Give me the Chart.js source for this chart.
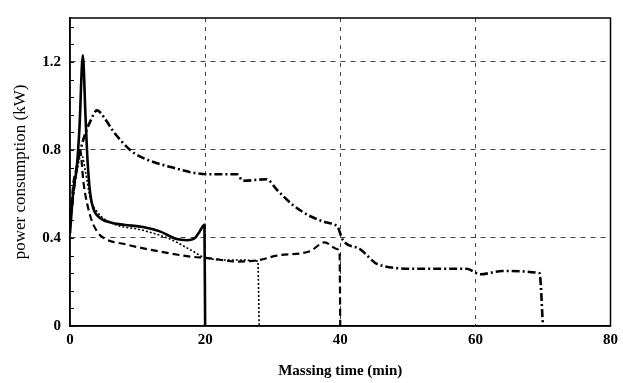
<!DOCTYPE html>
<html>
<head>
<meta charset="utf-8">
<script src="https://cdn.jsdelivr.net/npm/chart.js@4.4.1/dist/chart.umd.min.js"></script>
<style>
  html, body { margin: 0; padding: 0; background: #fff; }
  #wrap { width: 623px; height: 383px; }
</style>
</head>
<body>
<div id="wrap"><canvas id="power"></canvas></div>
<script>
// 20 min massing (solid)
const t20 = [0, 0.5, 1.0, 1.4, 1.9, 2.3, 2.6, 3.0, 3.5, 4.5, 6, 8, 10.8, 13.3, 15.8, 17.3, 18.5, 19.2, 19.9, 20];
const p20 = [0.42, 0.62, 0.72, 0.9, 1.23, 0.95, 0.75, 0.6, 0.53, 0.49, 0.47, 0.46, 0.45, 0.43, 0.395, 0.39, 0.40, 0.43, 0.46, 0];
// 28 min massing (dotted)
const t28 = [0, 0.5, 1.0, 1.7, 2.3, 3.0, 4.0, 6.0, 10.8, 14.8, 18.2, 20, 24, 27.8, 28];
const p28 = [0.45, 0.6, 0.7, 0.78, 0.7, 0.58, 0.52, 0.47, 0.435, 0.395, 0.34, 0.31, 0.30, 0.295, 0];
// 40 min massing (dashed)
const t40 = [0, 0.5, 1.0, 1.5, 2.0, 3.0, 4.0, 5.0, 8.4, 13, 18, 20, 25, 28, 30.6, 35.5, 37.7, 39.5, 39.9, 40];
const p40 = [0.45, 0.65, 0.72, 0.8, 0.65, 0.5, 0.43, 0.40, 0.37, 0.34, 0.315, 0.31, 0.293, 0.30, 0.32, 0.34, 0.38, 0.35, 0.33, 0];
// 70 min massing (dash-dot)
const t70 = [0.3, 1.0, 2.0, 3.0, 4.0, 5.0, 6.4, 8.9, 10.4, 15.2, 20.3, 24.7, 25.6, 29.1, 30.6, 33, 35.5, 38, 39.6, 40.4, 42.9, 45.6, 51.3, 58.7, 60.7, 64, 69.5, 70];
const p70 = [0.55, 0.72, 0.85, 0.93, 0.98, 0.95, 0.885, 0.80, 0.77, 0.72, 0.69, 0.69, 0.66, 0.667, 0.62, 0.55, 0.50, 0.47, 0.45, 0.39, 0.35, 0.28, 0.26, 0.26, 0.235, 0.25, 0.24, 0];

const xTicks = [0, 20, 40, 60, 80];
const yTicks = [0, 0.4, 0.8, 1.2];
const yMinor = [0.08, 0.16, 0.24, 0.32, 0.48, 0.56, 0.64, 0.72, 0.88, 0.96, 1.04, 1.12, 1.28, 1.36];

function pts(t, p) {
  return t.map((x, i) => ({ x: x, y: p[i] }));
}

// box round the plot + small inner ticks on the y axis
const frame = {
  id: 'frame',
  afterDraw(chart) {
    const { ctx, chartArea: a, scales: { y } } = chart;
    ctx.save();
    ctx.strokeStyle = '#000';
    ctx.lineWidth = 1.5;
    ctx.strokeRect(a.left, a.top, a.right - a.left, a.bottom - a.top);
    ctx.lineWidth = 1;
    yMinor.concat(yTicks).forEach(v => {
      const py = Math.round(y.getPixelForValue(v)) + 0.5;
      ctx.beginPath();
      ctx.moveTo(a.left, py);
      ctx.lineTo(a.left + 4, py);
      ctx.stroke();
    });
    ctx.restore();
  }
};

const tickFont = { family: 'Liberation Serif', size: 15, weight: 'bold' };

const ctx = document.getElementById('power').getContext('2d');
const chart = new Chart(ctx, {
  type: 'line',
  data: {
    datasets: [
      {
        label: '20 min',
        data: pts(t20, p20),
        borderColor: '#000',
        borderWidth: 2.6,
        pointRadius: 0,
        cubicInterpolationMode: 'monotone'
      },
      {
        label: '28 min',
        data: pts(t28, p28),
        borderColor: '#000',
        borderWidth: 1.6,
        borderDash: [2, 2],
        pointRadius: 0,
        cubicInterpolationMode: 'monotone'
      },
      {
        label: '40 min',
        data: pts(t40, p40),
        borderColor: '#000',
        borderWidth: 2.2,
        borderDash: [7, 4],
        pointRadius: 0,
        cubicInterpolationMode: 'monotone'
      },
      {
        label: '70 min',
        data: pts(t70, p70),
        borderColor: '#000',
        borderWidth: 2.6,
        borderDash: [8, 3, 2, 3],
        pointRadius: 0,
        cubicInterpolationMode: 'monotone'
      }
    ]
  },
  options: {
    responsive: true,
    maintainAspectRatio: false,
    animation: false,
    layout: { padding: { top: 13, right: 12, left: 0, bottom: 0 } },
    plugins: { legend: { display: false }, tooltip: { enabled: false } },
    scales: {
      x: {
        type: 'linear',
        min: 0,
        max: 80,
        afterBuildTicks: s => { s.ticks = xTicks.map(v => ({ value: v })); },
        afterFit: s => { s.height = 57; },
        ticks: { color: '#000', font: tickFont, padding: 5 },
        grid: {
          drawTicks: false,
          lineWidth: 1,
          color: c => (c.tick && (c.tick.value === 0 || c.tick.value === 80)) ? 'rgba(0,0,0,0)' : '#444'
        },
        border: { display: true, color: '#000', width: 1.5, dash: [4, 5] },
        title: {
          display: true,
          text: 'Massing time (min)',
          color: '#000',
          font: { family: 'Liberation Serif', size: 15, weight: 'bold' },
          padding: { top: 6, bottom: 3 }
        }
      },
      y: {
        min: 0,
        max: 1.4,
        afterBuildTicks: s => { s.ticks = yTicks.map(v => ({ value: v })); },
        afterFit: s => { s.width = 70; },
        ticks: {
          color: '#000',
          font: tickFont,
          padding: 9,
          callback: v => v === 0 ? '0' : v.toFixed(1)
        },
        grid: {
          drawTicks: false,
          lineWidth: 1,
          color: c => (c.tick && c.tick.value === 0) ? 'rgba(0,0,0,0)' : '#444'
        },
        border: { display: true, color: '#000', width: 1.5, dash: [5, 5] },
        title: {
          display: true,
          text: 'power consumption (kW)',
          color: '#000',
          font: { family: 'Liberation Serif', size: 17 },
          padding: { top: 10, bottom: 4 }
        }
      }
    }
  },
  plugins: [frame]
});
</script>
</body>
</html>
